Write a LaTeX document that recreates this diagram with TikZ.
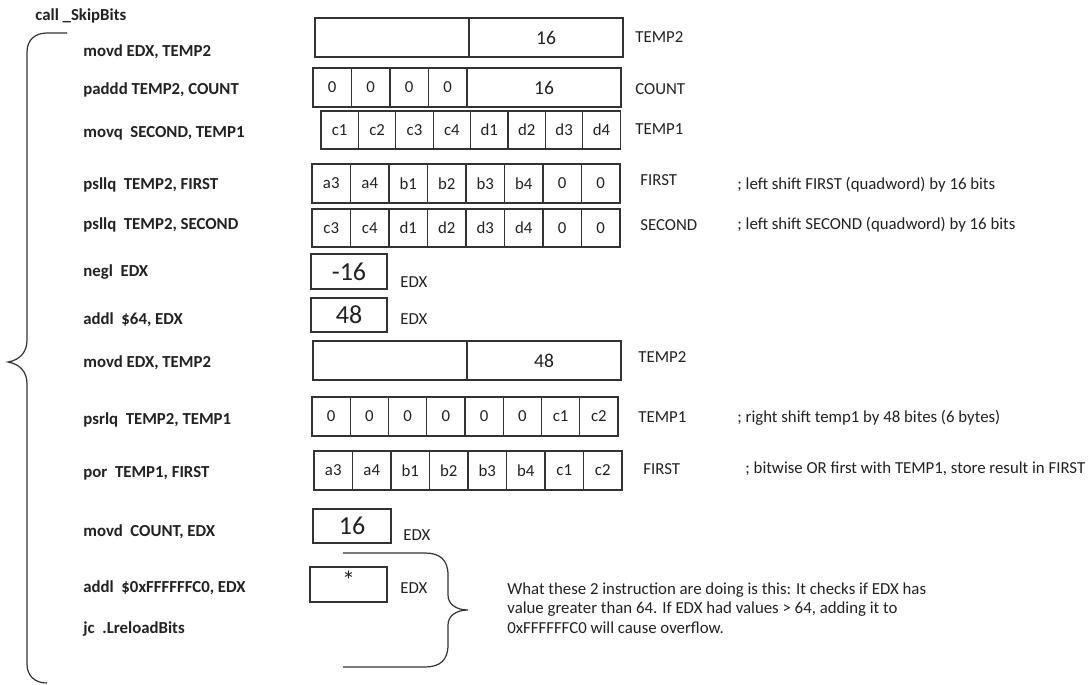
\documentclass[tikz,border=0pt]{standalone}
\usepackage{fontspec}
\setmainfont{Carlito}
\usetikzlibrary{positioning,calc}
\definecolor{asmInk}{HTML}{222222}
\definecolor{asmRule}{HTML}{333333}

\begin{document}
\begin{tikzpicture}[
  x=.5pt,y=-.5pt,
  instr/.style={anchor=west,inner sep=0pt,text=asmInk,font=\fontsize{8.4}{10}\selectfont\bfseries},
  reg/.style={anchor=west,inner sep=0pt,text=asmInk,font=\fontsize{8.4}{10}\selectfont},
  remark/.style={anchor=west,inner sep=0pt,text=asmInk,font=\fontsize{8.4}{10}\selectfont},
  cell/.style={draw=asmRule,line width=.6pt,inner sep=0pt,minimum height=19.5pt,text=asmInk,font=\fontsize{8.4}{10}\selectfont},
  half/.style={cell,minimum width=77pt,font=\fontsize{9.8}{11}\selectfont},
  edxbox/.style={cell,minimum width=38pt,minimum height=17.5pt,font=\fontsize{13}{15}\selectfont},
  brace/.style={draw=asmRule,line width=.6pt}
]
  \path[fill=white] (0,0) rectangle (1089,685);
  % instructions
  \node[instr] (call) at (35,16) {call \_SkipBits};
  \foreach \y/\txt [count=\i] in {52/{movd EDX, TEMP2},90/{paddd TEMP2, COUNT},
      133/{movq~ SECOND, TEMP1},185/{psllq~ TEMP2, FIRST},225/{psllq~ TEMP2, SECOND},
      272/{negl~ EDX},320/{addl~ \$64, EDX},363/{movd EDX, TEMP2},
      420/{psrlq~ TEMP2, TEMP1},473/{por~ TEMP1, FIRST},532/{movd~ COUNT, EDX},
      588/{addl~ \$0xFFFFFFC0, EDX},629/{jc~ .LreloadBits}}{
    \node[instr] (ins\i) at (83,\y) {\txt};
  }
  % TEMP2 = 16
  \node[half] (tmpTwoA1) at (392,37.5) {};
  \node[half] (tmpTwoA2) at (546,37.5) {16};
  \node[reg] (lbTmpTwoA) at (635,37) {TEMP2};
  % COUNT
  \foreach \i in {1,...,4}{
    \node[cell,minimum width=19.25pt] (cnt\i) at ({313+(\i-.5)*38.5},87.5) {0};
  }
  \node[half] (cnt5) at (544,87.5) {16};
  \node[reg] (lbCnt) at (635,89) {COUNT};
  % TEMP1
  \foreach \v [count=\i] in {c1,c2,c3,c4,d1,d2,d3,d4}{
    \node[cell,minimum width=18.7pt,minimum height=19pt] (tmpOneA\i) at ({321+(\i-.5)*37.4},130) {\v};
  }
  \node[reg] (lbTmpOneA) at (635,129) {TEMP1};
  % FIRST after shift
  \foreach \v [count=\i] in {a3,a4,b1,b2,b3,b4,0,0}{
    \node[cell,minimum width=19.25pt] (fstA\i) at ({312+(\i-.5)*38.5},183.5) {\v};
  }
  \node[reg] (lbFstA) at (640,180) {FIRST};
  \node[remark] (cmFst) at (737,185) {; left shift FIRST (quadword) by 16 bits};
  % SECOND after shift
  \foreach \v [count=\i] in {c3,c4,d1,d2,d3,d4,0,0}{
    \node[cell,minimum width=19.25pt,minimum height=19pt] (sec\i) at ({312+(\i-.5)*38.5},228) {\v};
  }
  \node[reg] (lbSec) at (640,225) {SECOND};
  \node[remark] (cmSec) at (737,225) {; left shift SECOND (quadword) by 16 bits};
  % EDX values
  \node[edxbox] (edxA) at (349,271.5) {-16};
  \node[reg] (lbEdxA) at (400,282) {EDX};
  \node[edxbox,minimum height=17pt] (edxB) at (349,315) {48};
  \node[reg] (lbEdxB) at (400,319) {EDX};
  % TEMP2 = 48
  \node[half] (tmpTwoB1) at (390,360.5) {};
  \node[half] (tmpTwoB2) at (544,360.5) {48};
  \node[reg] (lbTmpTwoB) at (638,357) {TEMP2};
  % TEMP1 after right shift
  \foreach \v [count=\i] in {0,0,0,0,0,0,c1,c2}{
    \node[cell,minimum width=19.125pt] (tmpOneB\i) at ({312+(\i-.5)*38.25},416.5) {\v};
  }
  \node[reg] (lbTmpOneB) at (638,417) {TEMP1};
  \node[remark] (cmTmpOne) at (737,418) {; right shift temp1 by 48 bites (6 bytes)};
  % FIRST after or
  \foreach \v [count=\i] in {a3,a4,b1,b2,b3,b4,c1,c2}{
    \node[cell,minimum width=19.25pt] (fstB\i) at ({314+(\i-.5)*38.5},470.5) {\v};
  }
  \node[reg] (lbFstB) at (643,469) {FIRST};
  \node[remark] (cmFstB) at (745,469) {; bitwise OR first with TEMP1, store result in FIRST};
  % EDX = COUNT, then the check
  \node[edxbox,minimum width=39pt,minimum height=17pt] (edxC) at (352,526) {16};
  \node[reg] (lbEdxC) at (403,535) {EDX};
  \node[edxbox,minimum width=38.5pt] (edxD) at (348.5,584.5) {\raisebox{4pt}{*}};
  \node[reg] (lbEdxD) at (400,588) {EDX};
  \node[remark,align=left,font=\fontsize{8.4}{9.8}\selectfont] (note) at (507,608)
    {What these 2 instruction are doing is this: It checks if EDX has\\
     value greater than 64. If EDX had values > 64, adding it to\\
     0xFFFFFFC0 will cause overflow.};
  % braces
  \draw[brace] (67,33) -- (47,33) .. controls (35,33) and (27,40) .. (27,52)
    -- (27,340) .. controls (27,352) and (20,360) .. (8,362)
    .. controls (20,364) and (27,372) .. (27,384)
    -- (27,664) .. controls (27,676) and (35,683) .. (47,683);
  \draw[brace] (343,553) -- (425,553) .. controls (440,553) and (448,560) .. (448,575)
    -- (448,595) .. controls (448,604) and (456,610) .. (468,610)
    .. controls (456,610) and (448,616) .. (448,625)
    -- (448,645) .. controls (448,660) and (440,667) .. (425,667) -- (343,667);
\end{tikzpicture}
\end{document}
